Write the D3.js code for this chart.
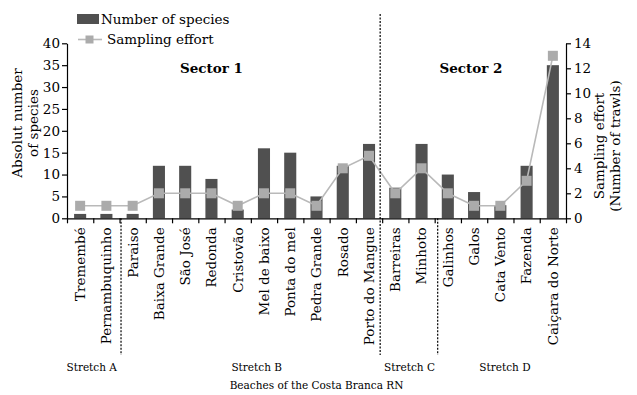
<!DOCTYPE html>
<html>
<head>
<meta charset="utf-8">
<script src="https://cdn.jsdelivr.net/npm/d3@7"></script>
<style>
  html, body { margin: 0; padding: 0; background: #fff; }
  svg { display: block; font-family: "DejaVu Serif", serif; }
</style>
</head>
<body>
<svg id="chart" width="637" height="395"></svg>
<script>
// Beaches of the Costa Branca (RN), west to east
const beaches = ["Tremembé", "Pernambuquinho", "Paraiso", "Baixa Grande", "São José", "Redonda",
  "Cristovão", "Mel de baixo", "Ponta do mel", "Pedra Grande", "Rosado", "Porto do Mangue",
  "Barreiras", "Minhoto", "Galinhos", "Galos", "Cata Vento", "Fazenda", "Caiçara do Norte"];
// Absolute number of species per beach
const speciesCount = [1, 1, 1, 12, 12, 9, 2, 16, 15, 5, 12, 17, 7, 17, 10, 6, 3, 12, 35];
// Sampling effort (number of trawls) per beach
const trawls = [1, 1, 1, 2, 2, 2, 1, 2, 2, 1, 4, 5, 2, 4, 2, 1, 1, 3, 13];
// Axis ticks
const speciesTicks = [0, 5, 10, 15, 20, 25, 30, 35, 40];
const trawlTicks = [0, 2, 4, 6, 8, 10, 12, 14];
// Stretches: label and index range of beaches covered
const stretches = [
  { name: "Stretch A", from: 0, to: 2 },
  { name: "Stretch B", from: 2, to: 12 },
  { name: "Stretch C", from: 12, to: 14 },
  { name: "Stretch D", from: 14, to: 19 }
];
const sectors = [
  { name: "Sector 1", from: 0, to: 12 },
  { name: "Sector 2", from: 12, to: 19 }
];

const svg = d3.select("#chart");
const L = 67, R = 566, T = 43.3, B = 218.3;

const x = d3.scaleBand().domain(beaches).range([L, R]).paddingInner(0.54).paddingOuter(0.27);
const xb = d3.scaleLinear().domain([0, beaches.length]).range([L, R]); // bin boundaries
const yL = d3.scaleLinear().domain([0, 40]).range([B, T]);
const yR = d3.scaleLinear().domain([0, 14]).range([B, T]);

const barColor = "#505050", lineColor = "#b9b9b9", markColor = "#ababab";

// Bars: number of species
svg.append("g").selectAll("rect").data(beaches).join("rect")
  .attr("x", d => x(d))
  .attr("width", x.bandwidth())
  .attr("y", (d, i) => yL(speciesCount[i]))
  .attr("height", (d, i) => B - yL(speciesCount[i]))
  .attr("fill", barColor);

// Line + square markers: sampling effort
const cx = d => x(d) + x.bandwidth() / 2;
svg.append("path")
  .datum(beaches)
  .attr("fill", "none")
  .attr("stroke", lineColor)
  .attr("stroke-width", 1.6)
  .attr("d", d3.line().x(cx).y((d, i) => yR(trawls[i])));
const ms = 10;
svg.append("g").selectAll("rect").data(beaches).join("rect")
  .attr("x", d => cx(d) - ms / 2)
  .attr("y", (d, i) => yR(trawls[i]) - ms / 2)
  .attr("width", ms).attr("height", ms)
  .attr("fill", markColor);

// Axes
const axisFont = g => g.selectAll("text").attr("font-size", 13.5).attr("font-family", "DejaVu Serif").attr("fill", "#000");
const axisLines = g => g.selectAll("path,line").attr("stroke", "#000").attr("stroke-width", 1.2);

svg.append("g").attr("transform", `translate(${L},0)`)
  .call(d3.axisLeft(yL).tickValues(speciesTicks).tickSize(5).tickPadding(2).tickSizeOuter(0))
  .call(axisFont).call(axisLines);

svg.append("g").attr("transform", `translate(${R},0)`)
  .call(d3.axisRight(yR).tickValues(trawlTicks).tickSize(5).tickPadding(3).tickSizeOuter(0))
  .call(axisFont).call(axisLines);

svg.append("g").attr("transform", `translate(0,${B})`)
  .call(d3.axisBottom(xb).tickValues(d3.range(beaches.length + 1)).tickSize(5).tickFormat("").tickSizeOuter(0))
  .call(axisLines);

// Beach names, rotated
svg.append("g").selectAll("text").data(beaches).join("text")
  .attr("transform", d => `translate(${cx(d)},${B + 9}) rotate(-90)`)
  .attr("text-anchor", "end")
  .attr("dy", "0.36em")
  .attr("font-size", 13.5)
  .text(d => d);

// Dashed separators between stretches / sectors
const sep = [
  { at: 2, offset: 1.5, top: B },
  { at: 12, offset: -2, top: 14 },
  { at: 14, offset: 3, top: B }
];
svg.append("g").selectAll("line").data(sep).join("line")
  .attr("x1", d => xb(d.at) + d.offset).attr("x2", d => xb(d.at) + d.offset)
  .attr("y1", d => d.top).attr("y2", 355)
  .attr("stroke", "#000").attr("stroke-width", 1.2)
  .attr("stroke-dasharray", "2,1.5");

// Sector titles
svg.append("g").selectAll("text").data(sectors).join("text")
  .attr("x", (d, i) => i === 0 ? 211.5 : 471)
  .attr("y", 73)
  .attr("text-anchor", "middle")
  .attr("font-size", 13.5)
  .attr("font-weight", "bold")
  .text(d => d.name);

// Stretch labels
const stretchX = [91.7, 256.7, 409.5, 505];
svg.append("g").selectAll("text").data(stretches).join("text")
  .attr("x", (d, i) => stretchX[i])
  .attr("y", 371)
  .attr("text-anchor", "middle")
  .attr("font-size", 10.5)
  .text(d => d.name);

svg.append("text")
  .attr("x", (L + R) / 2).attr("y", 389)
  .attr("text-anchor", "middle")
  .attr("font-size", 10.5)
  .text("Beaches of the Costa Branca RN");

// Axis titles
const leftTitle = svg.append("text")
  .attr("transform", `translate(17.5,123) rotate(-90)`)
  .attr("text-anchor", "middle").attr("font-size", 13.5);
leftTitle.append("tspan").attr("x", 0).attr("dy", "0.35em").text("Absolut number");
leftTitle.append("tspan").attr("x", 0).attr("dy", "1.2em").text("of species");

const rightTitle = svg.append("text")
  .attr("transform", `translate(599,146) rotate(-90)`)
  .attr("text-anchor", "middle").attr("font-size", 13.5);
rightTitle.append("tspan").attr("x", 0).attr("dy", "0.35em").text("Sampling effort");
rightTitle.append("tspan").attr("x", 0).attr("dy", "1.2em").text("(Number of trawls)");

// Legend
const lg = svg.append("g");
lg.append("rect").attr("x", 77).attr("y", 14).attr("width", 22).attr("height", 10).attr("fill", barColor);
lg.append("text").attr("x", 101).attr("y", 24).attr("font-size", 13.5).text("Number of species");
lg.append("line").attr("x1", 78).attr("x2", 102).attr("y1", 39.5).attr("y2", 39.5)
  .attr("stroke", lineColor).attr("stroke-width", 1.6);
lg.append("rect").attr("x", 85.5).attr("y", 35.5).attr("width", 8).attr("height", 8).attr("fill", markColor);
lg.append("text").attr("x", 107).attr("y", 44).attr("font-size", 13.5).text("Sampling effort");
</script>
</body>
</html>
